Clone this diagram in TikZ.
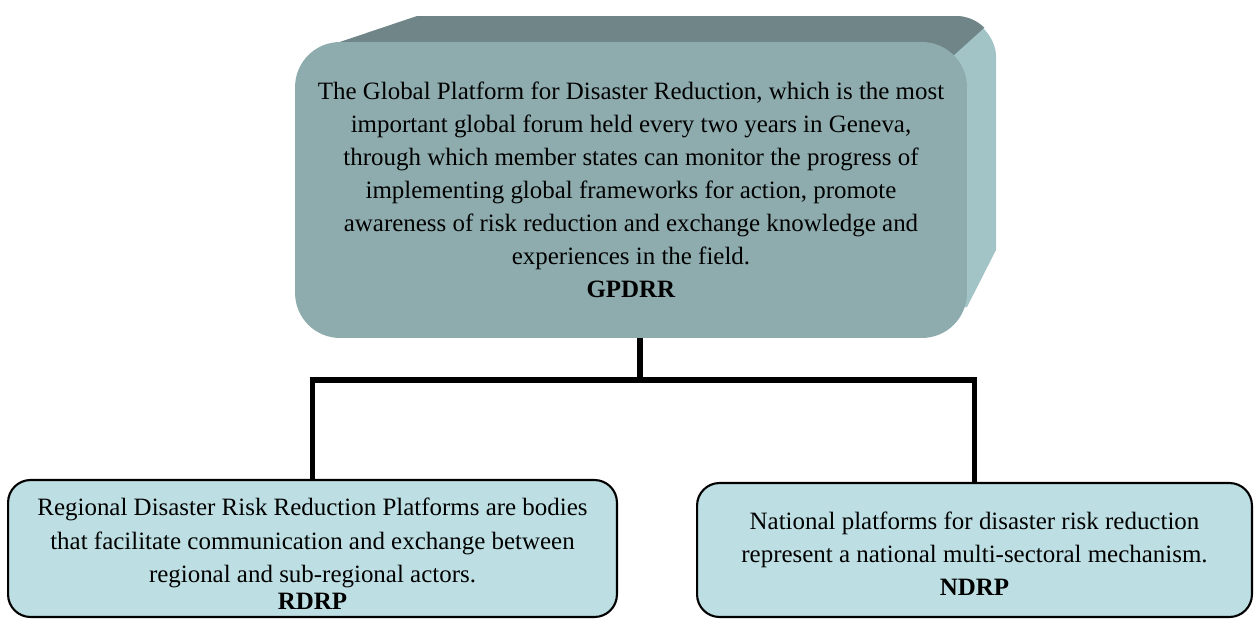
\documentclass[tikz,border=0pt]{standalone}
\usepackage{fontspec}
\setmainfont{Liberation Serif}
\usepackage{tikz}
\usetikzlibrary{calc}
\usetikzlibrary{positioning}
\definecolor{frontcol}{HTML}{8EACAE}
\definecolor{topcol}{HTML}{6F8587}
\definecolor{sidecol}{HTML}{A3C4C7}
\definecolor{boxcol}{HTML}{BDDFE3}
\tikzstyle{platform}=[
        rectangle,
        rounded corners=0.9cm,
        fill=frontcol,
        align=center,
        inner sep=0pt,
        minimum width=13.44cm,
        minimum height=5.92cm,
        font=\fontsize{14.2}{18.8}\selectfont
]
\tikzstyle{subplatform}=[
        rectangle,
        draw=black,
        line width=1.2pt,
        rounded corners=0.45cm,
        fill=boxcol,
        align=center,
        inner sep=0pt,
        font=\fontsize{14.2}{18.8}\selectfont
]
\tikzstyle{link}=[draw=black,line width=3.4pt]

\begin{document}
\begin{tikzpicture}[x=0.02cm,y=-0.02cm]
\useasboundingbox (0,0) rectangle (1254,619);
% raised block behind the global platform
\fill[sidecol] (930,16) -- (956,16) .. controls (978,16) and (996,38) .. (996,56)
        -- (996,250) -- (967,307) -- (930,307) -- cycle;
\fill[topcol] (313,51) -- (417,16) -- (956,16)
        .. controls (966.6,16) and (976.8,20.2) .. (984.3,27.7)
        -- (954,55) -- (922,42) -- (340,42) -- cycle;
\node[platform] (gp) at (631,190) {The Global Platform for Disaster Reduction, which is the most\\
important global forum held every two years in Geneva,\\
through which member states can monitor the progress of\\
implementing global frameworks for action, promote\\
awareness of risk reduction and exchange knowledge and\\
experiences in the field.\\
\textbf{GPDRR}};
\node[subplatform, minimum width=12.18cm, minimum height=2.74cm] (rd) at (312.5,548.5) {\rule{0pt}{16pt}Regional Disaster Risk Reduction Platforms are bodies\\
that facilitate communication and exchange between\\
regional and sub-regional actors.\\[-3.4pt]
\textbf{RDRP}};
\node[subplatform, minimum width=11.1cm, minimum height=2.68cm] (nd) at (974.5,550) {\rule{0pt}{14pt}National platforms for disaster risk reduction\\
represent a national multi-sectoral mechanism.\\
\textbf{NDRP}};
\coordinate (fork) at (640,380);
%Drawing Edges
\draw[link] (gp.south -| fork) -- (fork);
\draw[link] (rd.north) |- (fork) -| (nd.north);
\end{tikzpicture}
\end{document}
